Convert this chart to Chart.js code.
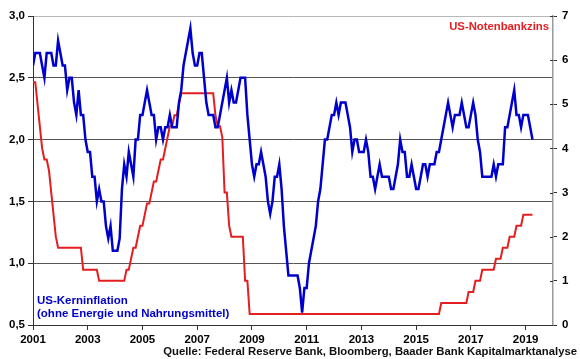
<!DOCTYPE html>
<html><head><meta charset="utf-8">
<script src="https://cdn.jsdelivr.net/npm/chart.js@4"></script>
<style>
html,body{margin:0;padding:0;background:#fff;}
#wrap{position:relative;width:580px;height:359px;overflow:hidden;}
canvas{position:absolute;left:0;top:0;}
.t{position:absolute;font-family:"Liberation Sans",Arial,sans-serif;font-weight:bold;white-space:nowrap;line-height:13px;}
</style></head><body>
<div id="wrap"><canvas id="c" width="580" height="359"></canvas>
<div class="t" style="right:31px;top:20px;color:#e41e20;font-size:11.3px;">US-Notenbankzins</div>
<div class="t" style="left:37px;top:294px;color:#0000cc;font-size:11.5px;">US-Kerninflation<br>(ohne Energie und Nahrungsmittel)</div>
<div class="t" style="right:3px;top:345px;color:#111;font-size:11.3px;">Quelle: Federal Reserve Bank, Bloomberg, Baader Bank Kapitalmarktanalyse</div>
</div>
<script>
// Monthly series; first point sits at 2001.0, one point per month
const startYear = 2001;

// US core inflation (% y/y), Dec 2000 .. Mar 2019
const coreInflation = [
  2.6,
  2.7, 2.7, 2.7, 2.6, 2.5, 2.7, 2.7, 2.7, 2.6, 2.6, 2.8, 2.7,
  2.6, 2.6, 2.4, 2.5, 2.5, 2.3, 2.2, 2.4, 2.2, 2.2, 2.0, 1.9,
  1.9, 1.7, 1.7, 1.5, 1.6, 1.5, 1.5, 1.3, 1.2, 1.3, 1.1, 1.1,
  1.1, 1.2, 1.6, 1.8, 1.7, 1.9, 1.8, 1.7, 2.0, 2.0, 2.2, 2.2,
  2.3, 2.4, 2.3, 2.2, 2.2, 2.0, 2.1, 2.1, 2.0, 2.1, 2.1, 2.2,
  2.1, 2.1, 2.1, 2.3, 2.4, 2.6, 2.7, 2.8, 2.9, 2.7, 2.6, 2.6,
  2.7, 2.7, 2.5, 2.3, 2.2, 2.2, 2.2, 2.1, 2.1, 2.2, 2.3, 2.4,
  2.5, 2.3, 2.4, 2.3, 2.3, 2.4, 2.5, 2.5, 2.5, 2.2, 2.0, 1.8,
  1.7, 1.8, 1.8, 1.9, 1.8, 1.7, 1.5, 1.4, 1.5, 1.7, 1.7, 1.8,
  1.6, 1.3, 1.1, 0.9, 0.9, 0.9, 0.9, 0.9, 0.8, 0.6, 0.8, 0.8,
  1.0, 1.1, 1.2, 1.3, 1.5, 1.6, 1.8, 2.0, 2.0, 2.1, 2.2, 2.2,
  2.3, 2.2, 2.3, 2.3, 2.3, 2.2, 2.1, 1.9, 2.0, 2.0, 1.9, 1.9,
  1.9, 2.0, 1.9, 1.7, 1.7, 1.6, 1.7, 1.8, 1.7, 1.7, 1.7, 1.7,
  1.6, 1.6, 1.7, 1.8, 2.0, 1.9, 1.9, 1.7, 1.7, 1.8, 1.7, 1.6,
  1.6, 1.7, 1.8, 1.8, 1.7, 1.8, 1.8, 1.8, 1.9, 1.9, 2.0, 2.1,
  2.2, 2.3, 2.2, 2.1, 2.2, 2.2, 2.2, 2.3, 2.2, 2.1, 2.1, 2.2,
  2.3, 2.2, 2.0, 1.9, 1.7, 1.7, 1.7, 1.7, 1.7, 1.8, 1.7, 1.8,
  1.8, 1.8, 2.1, 2.1, 2.2, 2.3, 2.4, 2.2, 2.2, 2.1, 2.2, 2.2,
  2.2, 2.1, 2.0
];

// US policy rate (%), Jan 2001 .. Apr 2019
const fedRate = [
  5.5, 5.5, 5.0, 4.5, 4.0, 3.75, 3.75, 3.5, 3.0, 2.5, 2.0, 1.75,
  1.75, 1.75, 1.75, 1.75, 1.75, 1.75, 1.75, 1.75, 1.75, 1.75, 1.25, 1.25,
  1.25, 1.25, 1.25, 1.25, 1.25, 1.0, 1.0, 1.0, 1.0, 1.0, 1.0, 1.0,
  1.0, 1.0, 1.0, 1.0, 1.0, 1.25, 1.25, 1.5, 1.75, 1.75, 2.0, 2.25,
  2.25, 2.5, 2.75, 2.75, 3.0, 3.25, 3.25, 3.5, 3.75, 3.75, 4.0, 4.25,
  4.5, 4.5, 4.75, 4.75, 5.0, 5.25, 5.25, 5.25, 5.25, 5.25, 5.25, 5.25,
  5.25, 5.25, 5.25, 5.25, 5.25, 5.25, 5.25, 5.25, 4.75, 4.5, 4.5, 4.25,
  3.0, 3.0, 2.25, 2.0, 2.0, 2.0, 2.0, 2.0, 2.0, 1.0, 1.0, 0.25,
  0.25, 0.25, 0.25, 0.25, 0.25, 0.25, 0.25, 0.25, 0.25, 0.25, 0.25, 0.25,
  0.25, 0.25, 0.25, 0.25, 0.25, 0.25, 0.25, 0.25, 0.25, 0.25, 0.25, 0.25,
  0.25, 0.25, 0.25, 0.25, 0.25, 0.25, 0.25, 0.25, 0.25, 0.25, 0.25, 0.25,
  0.25, 0.25, 0.25, 0.25, 0.25, 0.25, 0.25, 0.25, 0.25, 0.25, 0.25, 0.25,
  0.25, 0.25, 0.25, 0.25, 0.25, 0.25, 0.25, 0.25, 0.25, 0.25, 0.25, 0.25,
  0.25, 0.25, 0.25, 0.25, 0.25, 0.25, 0.25, 0.25, 0.25, 0.25, 0.25, 0.25,
  0.25, 0.25, 0.25, 0.25, 0.25, 0.25, 0.25, 0.25, 0.25, 0.25, 0.25, 0.5,
  0.5, 0.5, 0.5, 0.5, 0.5, 0.5, 0.5, 0.5, 0.5, 0.5, 0.5, 0.75,
  0.75, 0.75, 1.0, 1.0, 1.0, 1.25, 1.25, 1.25, 1.25, 1.25, 1.25, 1.5,
  1.5, 1.5, 1.75, 1.75, 1.75, 2.0, 2.0, 2.0, 2.25, 2.25, 2.25, 2.5,
  2.5, 2.5, 2.5, 2.5
];

const xTickYears = [2001, 2003, 2005, 2007, 2009, 2011, 2013, 2015, 2017, 2019];
const leftTicks = [0.5, 1.0, 1.5, 2.0, 2.5, 3.0];
const rightTicks = [0, 1, 2, 3, 4, 5, 6, 7];

const tickFont = {family: '"Liberation Sans", Arial, sans-serif', size: 11.5, weight: 'bold'};

const rightTickCross = {
  id: 'rightTickCross',
  afterDraw(chart) {
    const s = chart.scales.y1, a = chart.chartArea, c = chart.ctx;
    c.save();
    c.strokeStyle = '#333';
    c.lineWidth = 1;
    s.ticks.forEach(t => {
      const y = Math.round(s.getPixelForValue(t.value)) + 0.5;
      c.beginPath(); c.moveTo(a.right - 3, y); c.lineTo(a.right, y); c.stroke();
    });
    c.restore();
  }
};

new Chart(document.getElementById('c').getContext('2d'), {
  type: 'line',
  data: {
    datasets: [
      {
        label: 'US-Kerninflation',
        data: coreInflation.map((v, i) => ({x: startYear + i / 12, y: v})),
        borderColor: '#0000cc', borderWidth: 2.5, pointRadius: 0,
        yAxisID: 'y', order: 0, tension: 0
      },
      {
        label: 'US-Notenbankzins',
        data: fedRate.map((v, i) => ({x: startYear + i / 12, y: v})),
        borderColor: '#e41e20', borderWidth: 2, pointRadius: 0,
        yAxisID: 'y1', order: 1, tension: 0
      }
    ]
  },
  options: {
    responsive: false, animation: false, devicePixelRatio: 1,
    layout: {padding: {top: 16, left: 0, right: 0, bottom: 0}},
    plugins: {legend: {display: false}, tooltip: {enabled: false}},
    scales: {
      x: {
        type: 'linear', min: 2001, max: 2020,
        afterBuildTicks: s => { s.ticks = xTickYears.map(v => ({value: v})); },
        afterFit: s => { s.height = 34; },
        grid: {drawOnChartArea: false, drawTicks: true, tickLength: 5, color: '#333'},
        border: {color: '#333', width: 1},
        ticks: {font: tickFont, color: '#000', padding: 3, maxRotation: 0, autoSkip: false,
                callback: v => String(v)}
      },
      y: {
        position: 'left', min: 0.5, max: 3.0,
        afterBuildTicks: s => { s.ticks = leftTicks.map(v => ({value: v})); },
        afterFit: s => { s.width = 33; },
        grid: {color: c => (c.tick && c.tick.value === 3) ? '#b8b8b8' : '#555',
               tickColor: '#333', tickLength: 5},
        border: {color: '#333', width: 1},
        ticks: {font: tickFont, color: '#000', padding: 3,
                callback: v => v.toFixed(1).replace('.', ',')}
      },
      y1: {
        position: 'right', min: 0, max: 7,
        afterBuildTicks: s => { s.ticks = rightTicks.map(v => ({value: v})); },
        afterFit: s => { s.width = 27; },
        grid: {drawOnChartArea: false, tickColor: '#333', tickLength: 4},
        border: {color: '#9a9a9a', width: 1.5},
        ticks: {font: tickFont, color: '#000', padding: 5, callback: v => String(v)}
      }
    }
  },
  plugins: [rightTickCross]
});
</script>
</body></html>
